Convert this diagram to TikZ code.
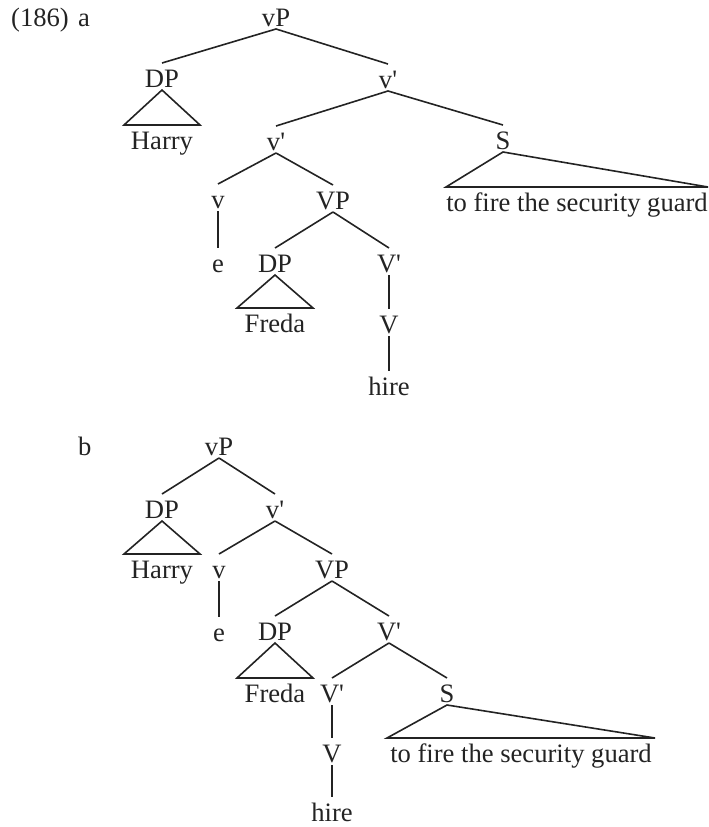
\documentclass[tikz,border=0pt]{standalone}
\usepackage{fontspec}
\setmainfont{Liberation Serif}
\definecolor{ink}{RGB}{35,35,35}
\newcommand{\pr}{\textquotesingle}
\begin{document}
\begin{tikzpicture}[x=1pt,y=-1pt,
  lbl/.style={inner sep=0pt, outer sep=0pt, text height=24pt, text depth=3pt, anchor=base, text=ink, font=\fontsize{26.6}{30}\selectfont},
  tag/.style={inner sep=0pt, anchor=base west, text=ink, font=\fontsize{26.6}{30}\selectfont},
  edge/.style={line width=1.6pt, draw=ink}]
\useasboundingbox (0,0) rectangle (709,827);

% ---------- (186) a ----------
\node[tag] (num) at (11,27) {(186)};
\node[tag] (ta) at (78,27) {a};

\node[lbl] (avP)   at (276,26)  {vP};
\node[lbl] (aDP1)  at (162,87)  {DP};
\node[lbl] (aHarry) at (162,149) {Harry};
\node[lbl] (avb1)  at (388,88)  {v\pr};
\node[lbl] (avb2)  at (276,150) {v\pr};
\node[lbl] (aS)    at (503,149) {S};
\node[lbl] (aSt)   at (577,211) {to fire the security guard};
\node[lbl] (av)    at (218,208) {v};
\node[lbl] (ae)    at (218,272) {e};
\node[lbl] (aVP)   at (333,209) {VP};
\node[lbl] (aDP2)  at (275,272) {DP};
\node[lbl] (aFreda) at (275,332) {Freda};
\node[lbl] (aVb)   at (389,272) {V\pr};
\node[lbl] (aV)    at (389,333) {V};
\node[lbl] (ahire) at (389,395) {hire};

\draw[edge] (avP.south) -- (aDP1.north);
\draw[edge] (avP.south) -- (avb1.north);
\draw[edge] (aDP1.south) -- ([xshift=-38pt]aHarry.north) -- ([xshift=38pt]aHarry.north) -- cycle;
\draw[edge] (avb1.south) -- (avb2.north);
\draw[edge] (avb1.south) -- (aS.north);
\draw[edge] (aS.south) -- ([xshift=-131pt]aSt.north) -- ([xshift=131pt]aSt.north) -- cycle;
\draw[edge] (avb2.south) -- (av.north);
\draw[edge] (avb2.south) -- (aVP.north);
\draw[edge] (av.south) -- (ae.north);
\draw[edge] (aVP.south) -- (aDP2.north);
\draw[edge] (aVP.south) -- (aVb.north);
\draw[edge] (aDP2.south) -- ([xshift=-38pt]aFreda.north) -- ([xshift=38pt]aFreda.north) -- cycle;
\draw[edge] (aVb.south) -- (aV.north);
\draw[edge] (aV.south) -- (ahire.north);

% ---------- b ----------
\node[tag] (tb) at (78,455) {b};

\node[lbl] (bvP)   at (219,455) {vP};
\node[lbl] (bDP1)  at (162,518) {DP};
\node[lbl] (bHarry) at (162,578) {Harry};
\node[lbl] (bvb)   at (275,518) {v\pr};
\node[lbl] (bv)    at (219,578) {v};
\node[lbl] (be)    at (219,641) {e};
\node[lbl] (bVP)   at (332,578) {VP};
\node[lbl] (bDP2)  at (275,640) {DP};
\node[lbl] (bFreda) at (275,702) {Freda};
\node[lbl] (bVb1)  at (389,640) {V\pr};
\node[lbl] (bVb2)  at (332,702) {V\pr};
\node[lbl] (bS)    at (447,702) {S};
\node[lbl] (bSt)   at (521,762) {to fire the security guard};
\node[lbl] (bV)    at (332,762) {V};
\node[lbl, text depth=1pt] (bhire) at (332,821) {hire};

\draw[edge] (bvP.south) -- (bDP1.north);
\draw[edge] (bvP.south) -- (bvb.north);
\draw[edge] (bDP1.south) -- ([xshift=-38pt]bHarry.north) -- ([xshift=38pt]bHarry.north) -- cycle;
\draw[edge] (bvb.south) -- (bv.north);
\draw[edge] (bvb.south) -- (bVP.north);
\draw[edge] (bv.south) -- (be.north);
\draw[edge] (bVP.south) -- (bDP2.north);
\draw[edge] (bVP.south) -- (bVb1.north);
\draw[edge] (bDP2.south) -- ([xshift=-38pt]bFreda.north) -- ([xshift=38pt]bFreda.north) -- cycle;
\draw[edge] (bVb1.south) -- (bVb2.north);
\draw[edge] (bVb1.south) -- (bS.north);
\draw[edge] (bS.south) -- ([xshift=-134pt]bSt.north) -- ([xshift=134pt]bSt.north) -- cycle;
\draw[edge] (bVb2.south) -- (bV.north);
\draw[edge] (bV.south) -- (bhire.north);
\end{tikzpicture}
\end{document}
